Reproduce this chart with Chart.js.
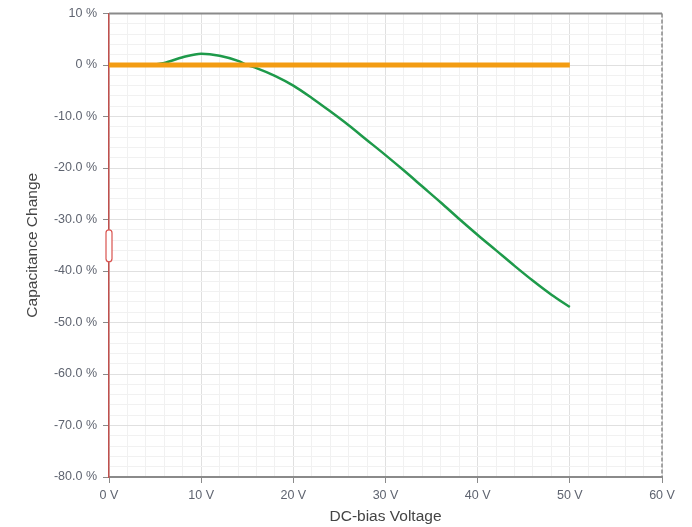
<!DOCTYPE html>
<html lang="en">
<head>
<meta charset="utf-8" />
<script src="https://cdn.jsdelivr.net/npm/chart.js@4.4.1/dist/chart.umd.min.js"></script>
<style>
  html, body { margin: 0; padding: 0; background: #fff; }
  #wrap { width: 692px; height: 527px; }
</style>
<title>DC-bias</title>
</head>
<body>
<div id="wrap"><canvas id="grafico"></canvas></div>
<script>
// data
const voltages = [0, 2, 4, 5, 6, 8, 10, 12, 14, 15, 16, 18, 20, 22, 24, 26, 28, 30, 32, 34, 36, 38, 40, 42, 44, 46, 48, 50];
const capChange = [0, 0, 0, 0.1, 0.4, 1.5, 2.2, 1.8, 0.8, 0, -0.6, -2.1, -4.0, -6.4, -9.0, -11.7, -14.6, -17.5, -20.5, -23.6, -26.7, -29.9, -33.0, -36.0, -39.0, -41.9, -44.6, -47.0];
const refVoltages = [0, 50];
const refValues = [0, 0];
const xTicks = [0, 10, 20, 30, 40, 50, 60];
const yTicks = [10, 0, -10, -20, -30, -40, -50, -60, -70, -80];

const font = "'Liberation Sans', Arial, sans-serif";

function pts(xs, ys) {
  return xs.map((x, i) => ({ x: x, y: ys[i] }));
}

// top / right frame and the little slider handle on the y axis
const frame = {
  id: 'frame',
  afterDraw(chart) {
    const { ctx, chartArea: a } = chart;
    const y = chart.scales.y;
    ctx.save();
    ctx.strokeStyle = '#8a8a8a';
    ctx.lineWidth = 2;
    ctx.beginPath();
    ctx.moveTo(a.left, a.top);
    ctx.lineTo(a.right, a.top);
    ctx.stroke();
    ctx.setLineDash([4, 2]);
    ctx.lineWidth = 1.5;
    ctx.beginPath();
    ctx.moveTo(a.right, a.top);
    ctx.lineTo(a.right, a.bottom);
    ctx.stroke();
    ctx.setLineDash([]);
    // slider handle
    const t = y.getPixelForValue(-32.0), b = y.getPixelForValue(-38.2);
    ctx.fillStyle = '#fff';
    ctx.strokeStyle = '#d9534f';
    ctx.lineWidth = 1.2;
    ctx.beginPath();
    ctx.roundRect(a.left - 3, t, 6, b - t, 3);
    ctx.fill();
    ctx.stroke();
    ctx.restore();
  }
};

new Chart(document.getElementById('grafico'), {
  type: 'line',
  data: {
    datasets: [
      {
        label: 'Reference',
        data: pts(refVoltages, refValues),
        borderColor: '#f39c12',
        borderWidth: 5,
        pointRadius: 0,
        order: 1
      },
      {
        label: 'Capacitance Change',
        data: pts(voltages, capChange),
        borderColor: '#1e9a4a',
        borderWidth: 2.5,
        pointRadius: 0,
        cubicInterpolationMode: 'monotone',
        order: 2
      }
    ]
  },
  options: {
    responsive: true,
    maintainAspectRatio: false,
    animation: false,
    layout: { padding: { top: 11, right: 30, left: 0, bottom: 0 } },
    plugins: { legend: { display: false }, tooltip: { enabled: false } },
    scales: {
      x: {
        type: 'linear',
        min: 0,
        max: 60,
        afterFit(s) { s.height = 50; },
        ticks: {
          stepSize: 2,
          autoSkip: false,
          maxRotation: 0,
          padding: 5,
          color: '#5f6470',
          font: { family: font, size: 12.5 },
          callback: v => (xTicks.includes(v) ? v + ' V' : '')
        },
        grid: {
          color: c => (c.tick && c.tick.value % 10 === 0 ? '#e0e0e0' : '#f1f1f1'),
          tickColor: c => (c.tick && c.tick.value % 10 === 0 ? '#8a8a8a' : 'rgba(0,0,0,0)'),
          tickLength: 6
        },
        border: { color: '#8a8a8a', width: 2 },
        title: {
          display: true,
          text: 'DC-bias Voltage',
          color: '#444',
          padding: { top: 0, bottom: 1 },
          font: { family: font, size: 15.5 }
        }
      },
      y: {
        min: -80,
        max: 10,
        afterFit(s) { s.width = 109; },
        ticks: {
          stepSize: 2,
          autoSkip: false,
          padding: 6,
          color: '#5f6470',
          font: { family: font, size: 12.5 },
          callback: v => {
            if (!yTicks.includes(v)) return '';
            return (v >= 0 ? v : v.toFixed(1)) + ' %';
          }
        },
        grid: {
          color: c => (c.tick && c.tick.value % 10 === 0 ? '#e0e0e0' : '#f1f1f1'),
          tickColor: c => (c.tick && c.tick.value % 10 === 0 ? '#8a8a8a' : 'rgba(0,0,0,0)'),
          tickLength: 6
        },
        border: { color: '#c0504d', width: 1.5 },
        title: {
          display: true,
          text: 'Capacitance Change',
          color: '#444',
          padding: { top: 23, bottom: 0 },
          font: { family: font, size: 15.5 }
        }
      }
    }
  },
  plugins: [frame]
});
</script>
</body>
</html>
